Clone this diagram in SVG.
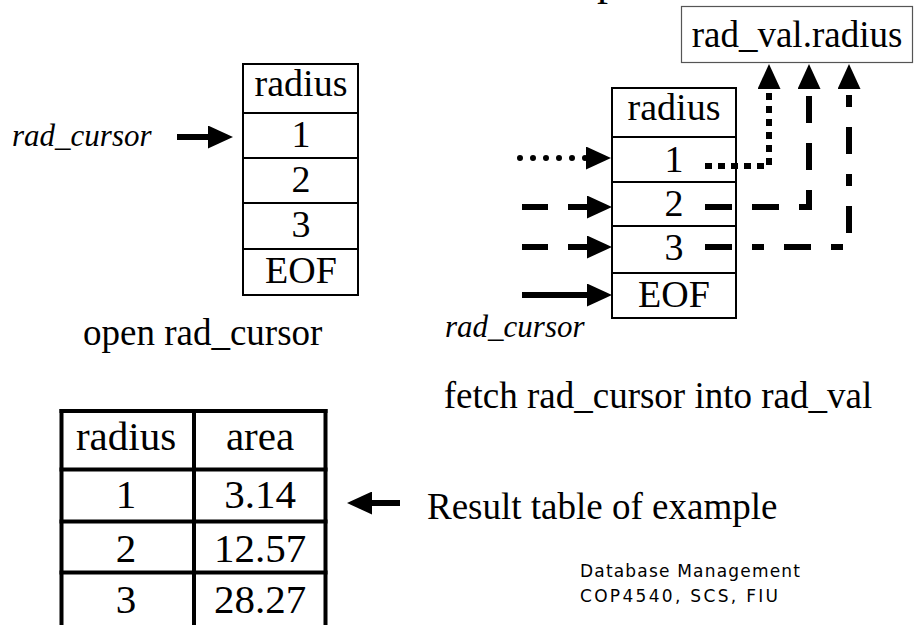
<svg xmlns="http://www.w3.org/2000/svg" width="914" height="625" viewBox="0 0 914 625">
<style>
.t{font-family:"Liberation Serif","Times New Roman",serif;fill:#000}
.c{text-anchor:middle}
.it{font-style:italic}
.cell{font-size:38px}
.box{fill:none;stroke:#000;stroke-width:2}
.thick{fill:none;stroke:#000;stroke-width:4}
.ln{fill:none;stroke:#000;stroke-width:6}
.note{font-family:"Comic Sans MS","DejaVu Sans",sans-serif;font-size:17px;fill:#000}
</style>
<defs>
<marker id="head" markerUnits="userSpaceOnUse" viewBox="0 0 25 23" refX="0" refY="11.5" markerWidth="25" markerHeight="23" orient="auto">
<path d="M0,0 L25,11.5 L0,23 z" fill="#000"/>
</marker>
</defs>
<rect width="914" height="625" fill="#fff"/>
<text class="t" x="597" y="-5" font-size="44">p</text>

<g id="open-table">
<rect class="box" x="243" y="64" width="115" height="231"/>
<line class="box" x1="243" y1="113" x2="358" y2="113"/>
<line class="box" x1="243" y1="158" x2="358" y2="158"/>
<line class="box" x1="243" y1="203" x2="358" y2="203"/>
<line class="box" x1="243" y1="249" x2="358" y2="249"/>
<text class="t c cell" x="301" y="96">radius</text>
<text class="t c cell" x="301" y="147">1</text>
<text class="t c cell" x="301" y="192">2</text>
<text class="t c cell" x="301" y="237">3</text>
<text class="t c cell" x="301" y="283">EOF</text>
</g>
<g id="open-label">
<text class="t it" x="12" y="146" font-size="31">rad_cursor</text>
<text class="t" x="83" y="345" font-size="37">open rad_cursor</text>
</g>

<g id="fetch-table">
<rect class="box" x="612" y="88" width="124" height="230"/>
<line class="box" x1="612" y1="137" x2="736" y2="137"/>
<line class="box" x1="612" y1="182" x2="736" y2="182"/>
<line class="box" x1="612" y1="226" x2="736" y2="226"/>
<line class="box" x1="612" y1="273" x2="736" y2="273"/>
<text class="t c cell" x="674" y="120">radius</text>
<text class="t c cell" x="674" y="172">1</text>
<text class="t c cell" x="674" y="216">2</text>
<text class="t c cell" x="674" y="260">3</text>
<text class="t c cell" x="674" y="307">EOF</text>
</g>
<g id="rad-val">
<rect x="681.5" y="6.5" width="231" height="56" fill="#fff" stroke="#555" stroke-width="1.2"/>
<text class="t c" x="797" y="47" font-size="37">rad_val.radius</text>
</g>
<g id="fetch-label">
<text class="t it" x="445" y="337" font-size="31">rad_cursor</text>
<text class="t c" x="658" y="408" font-size="37">fetch rad_cursor into rad_val</text>
</g>

<g id="connectors">
<line class="ln" x1="177" y1="137" x2="208" y2="137" marker-end="url(#head)"/>
<line class="ln" x1="520" y1="158" x2="586" y2="158" stroke-width="5" stroke-linecap="round" stroke-dasharray="0 13" marker-end="url(#head)"/>
<line class="ln" x1="522" y1="207" x2="587" y2="207" stroke-dasharray="26 20" marker-end="url(#head)"/>
<line class="ln" x1="522" y1="247" x2="587" y2="247" stroke-dasharray="26 20" marker-end="url(#head)"/>
<line class="ln" x1="522" y1="295" x2="587" y2="295" marker-end="url(#head)"/>
<path class="ln" d="M705,166 H769 V89" stroke-dasharray="7 6" marker-end="url(#head)"/>
<path class="ln" d="M705,207 H809 V89" stroke-dasharray="27 20" marker-end="url(#head)"/>
<path class="ln" d="M705,247 H849 V89" stroke-dasharray="27 20 12 20" marker-end="url(#head)"/>
<line class="ln" x1="400" y1="503" x2="372" y2="503" marker-end="url(#head)"/>
</g>

<g id="result-table">
<line class="thick" x1="61.5" y1="409" x2="61.5" y2="625"/>
<line class="thick" x1="194" y1="409" x2="194" y2="625"/>
<line class="thick" x1="325.5" y1="409" x2="325.5" y2="625"/>
<line class="thick" x1="59.5" y1="411" x2="327.5" y2="411"/>
<line class="thick" x1="59.5" y1="469.5" x2="327.5" y2="469.5"/>
<line class="thick" x1="59.5" y1="521.5" x2="327.5" y2="521.5"/>
<line class="thick" x1="59.5" y1="572.5" x2="327.5" y2="572.5"/>
<text class="t c" x="126" y="450" font-size="41">radius</text>
<text class="t c" x="260" y="450" font-size="41">area</text>
<text class="t c" x="126" y="508" font-size="41">1</text>
<text class="t c" x="260" y="508" font-size="41">3.14</text>
<text class="t c" x="126" y="562" font-size="41">2</text>
<text class="t c" x="260" y="562" font-size="41">12.57</text>
<text class="t c" x="126" y="613" font-size="41">3</text>
<text class="t c" x="260" y="613" font-size="41">28.27</text>
</g>
<g id="result-label">
<text class="t" x="427" y="519" font-size="37">Result table of example</text>
</g>
<g id="footer">
<text class="note" x="580" y="577" textLength="220" lengthAdjust="spacing">Database Management</text>
<text class="note" x="580" y="602" textLength="198" lengthAdjust="spacing">COP4540, SCS, FIU</text>
</g>
</svg>
